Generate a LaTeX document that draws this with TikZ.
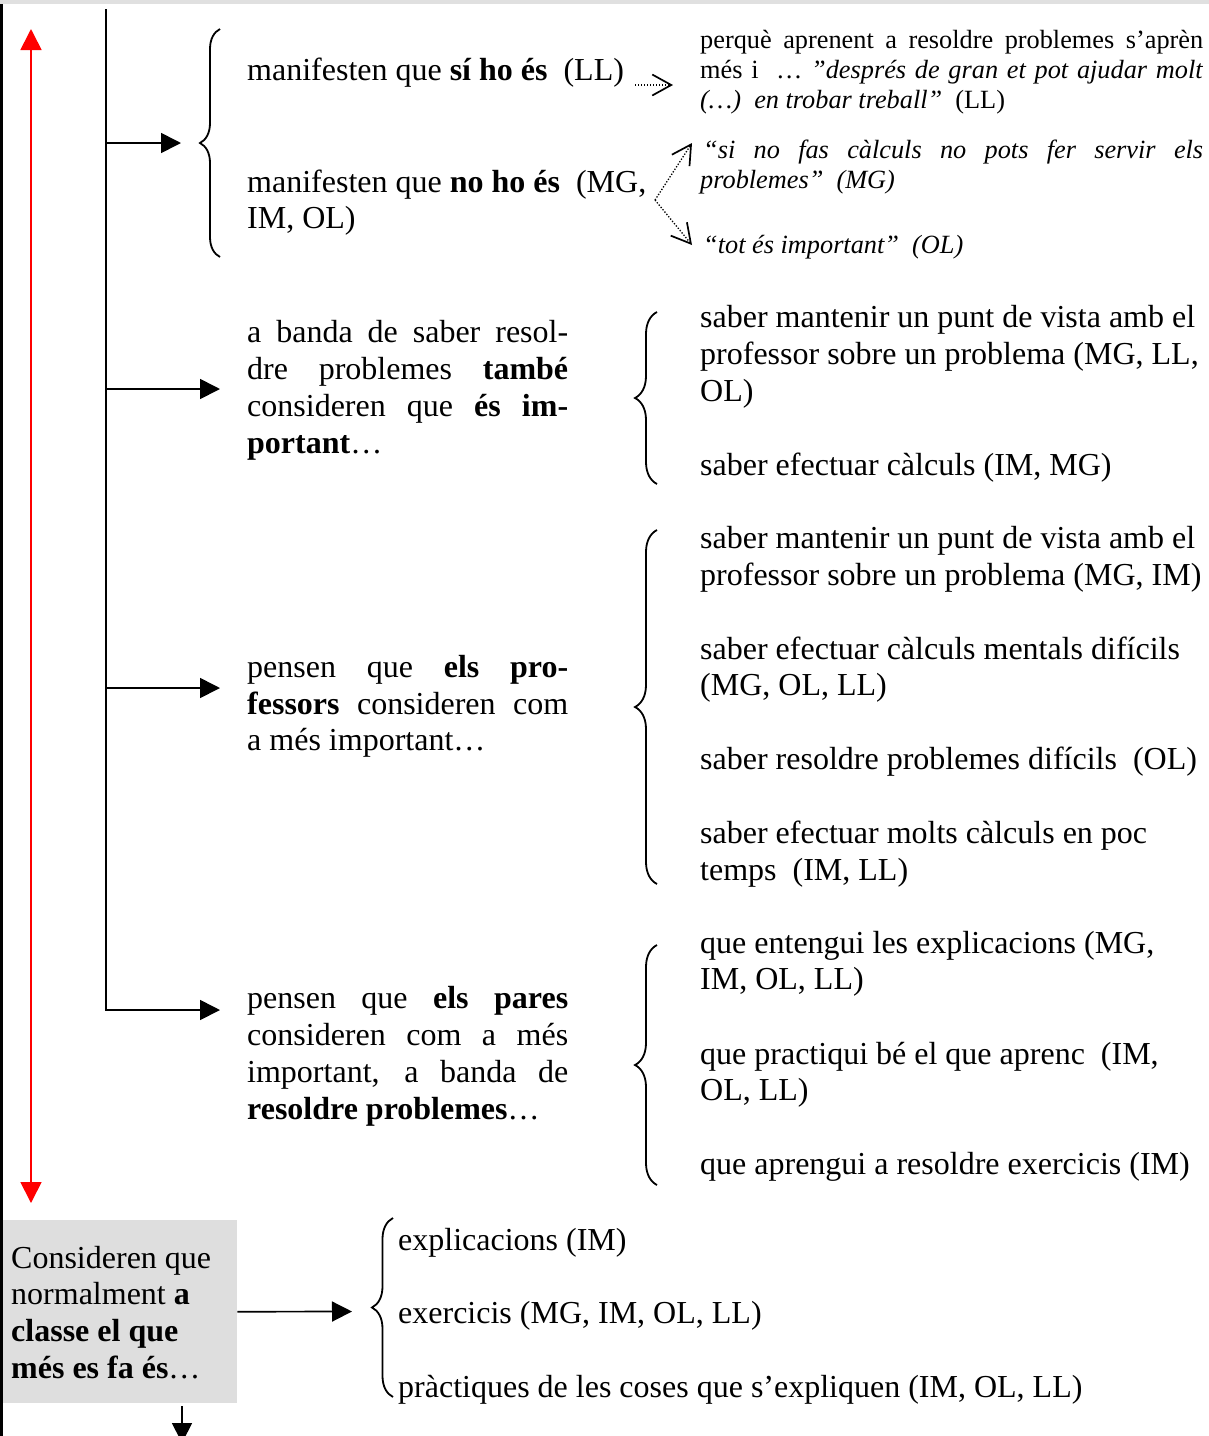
\documentclass[tikz,border=0pt]{standalone}
\usepackage{fontspec}
\setmainfont{Liberation Serif}
\usetikzlibrary{arrows.meta,decorations.pathreplacing}

\definecolor{boxgrey}{HTML}{DEDEDE}
\definecolor{stripgrey}{HTML}{E0E0E0}

% a line stretched to a given width (justified)
\newcommand\justline[2]{\makebox[#1][s]{#2}}

\tikzset{
  big/.style={font=\fontsize{32}{37}\selectfont, inner sep=0pt, anchor=base west},
  small/.style={font=\fontsize{26.3}{30}\selectfont, inner sep=0pt, anchor=base west},
  link/.style={line width=1.7pt, -{Triangle[length=20pt,width=20pt]}},
  spine/.style={line width=1.7pt},
  bracestyle/.style={line width=1.8pt, decorate, decoration={brace, amplitude=22pt}},
  hint/.style={line width=1.3pt, dash pattern=on 1.3pt off 1.7pt,
    -{Straight Barb[length=19pt,width=21pt,line width=1.7pt]}},
  timeline/.style={red, line width=1.7pt,
    {Triangle[length=21pt,width=21pt]}-{Triangle[length=21pt,width=21pt]}}
}

\begin{document}
\begin{tikzpicture}[x=1pt,y=-1pt]
\useasboundingbox (0,0) rectangle (1209,1436);
\clip (0,0) rectangle (1209,1436);

% frame edges
\fill[stripgrey] (0,0) rectangle (1209,4.3);
\fill[black] (0,4.3) rectangle (2.7,1436);

% red time line
\coordinate (redtop) at (31,29);
\coordinate (redbot) at (31,1203);
\draw[timeline] (redbot) -- (redtop);

% black spine and its branches
\coordinate (spinetop) at (106,9);
\coordinate (spinebot) at (106,1011);
\draw[spine] (spinetop) -- (spinebot);
\coordinate (b1) at (106,143);  \coordinate (t1) at (181,143);
\coordinate (b2) at (106,389);  \coordinate (t2) at (220,389);
\coordinate (b3) at (106,688);  \coordinate (t3) at (220,688);
\coordinate (b4) at (106,1010); \coordinate (t4) at (220,1010);
\draw[link] (b1) -- (t1);
\draw[link] (b2) -- (t2);
\draw[link] (b3) -- (t3);
\draw[link] (b4) -- (t4);

% ---- block 1
\draw[bracestyle, decoration={amplitude=20pt}] (220,257) -- (220,29);
\node[big] (s1a) at (247,80) {manifesten que \textbf{sí ho és}\ \ (LL)};
\node[big] (s1b) at (247,192) {manifesten que \textbf{no ho és}\ \ (MG,};
\node[big] (s1c) at (247,228) {IM, OL)};

\node[small] (q1a) at (700,48) {\justline{503pt}{perquè aprenent a resoldre problemes s’aprèn}};
\node[small] (q1b) at (700,78) {\justline{503pt}{més i\ \ … \textit{”després de gran et pot ajudar molt}}};
\node[small] (q1c) at (700,108) {\textit{(…)\ \ en trobar treball”}\ \ (LL)};
\node[small] (q2a) at (703,158) {\itshape\justline{500pt}{“si no fas càlculs no pots fer servir els}};
\node[small] (q2b) at (700,188) {\itshape problemes”\ \ (MG)};
\node[small] (q3) at (703,253) {\itshape “tot és important”\ \ (OL)};

\coordinate (h0) at (635,85);  \coordinate (h1) at (673,85);
\coordinate (h2) at (655,200); \coordinate (h3) at (692,143);
\coordinate (h4) at (692,245);
\draw[hint] (h0) -- (h1);
\draw[hint] (h2) -- (h3);
\draw[hint] (h2) -- (h4);

% ---- block 2
\node[big] (s2a) at (247,342) {\justline{321pt}{a banda de saber resol-}};
\node[big] (s2b) at (247,379) {\justline{321pt}{dre problemes \textbf{també}}};
\node[big] (s2c) at (247,416) {\justline{321pt}{consideren que \textbf{és im-}}};
\node[big] (s2d) at (247,453) {\textbf{portant}…};
\draw[bracestyle] (657,484) -- (657,312);
\node[big] (r2a) at (700,327) {saber mantenir un punt de vista amb el};
\node[big] (r2b) at (700,364) {professor sobre un problema (MG, LL,};
\node[big] (r2c) at (700,401) {OL)};
\node[big] (r2d) at (700,475) {saber efectuar càlculs (IM, MG)};

% ---- block 3
\node[big] (s3a) at (247,677) {\justline{321pt}{pensen que \textbf{els pro-}}};
\node[big] (s3b) at (247,714) {\justline{321pt}{\textbf{fessors} consideren com}};
\node[big] (s3c) at (247,750) {a més important…};
\draw[bracestyle] (657,884) -- (657,530);
\node[big] (r3a) at (700,548) {saber mantenir un punt de vista amb el};
\node[big] (r3b) at (700,585) {professor sobre un problema (MG, IM)};
\node[big] (r3c) at (700,659) {saber efectuar càlculs mentals difícils};
\node[big] (r3d) at (700,695) {(MG, OL, LL)};
\node[big] (r3e) at (700,769) {saber resoldre problemes difícils\ \ (OL)};
\node[big] (r3f) at (700,843) {saber efectuar molts càlculs en poc};
\node[big] (r3g) at (700,880) {temps\ \ (IM, LL)};

% ---- block 4
\node[big] (s4a) at (247,1008) {\justline{321pt}{pensen que \textbf{els pares}}};
\node[big] (s4b) at (247,1045) {\justline{321pt}{consideren com a més}};
\node[big] (s4c) at (247,1082) {\justline{321pt}{important, a banda de}};
\node[big] (s4d) at (247,1119) {\textbf{resoldre problemes}…};
\draw[bracestyle] (657,1185) -- (657,945);
\node[big] (r4a) at (700,953) {que entengui les explicacions (MG,};
\node[big] (r4b) at (700,989) {IM, OL, LL)};
\node[big] (r4c) at (700,1064) {que practiqui bé el que aprenc\ \ (IM,};
\node[big] (r4d) at (700,1100) {OL, LL)};
\node[big] (r4e) at (700,1174) {que aprengui a resoldre exercicis (IM)};

% ---- grey box at the bottom
\node[fill=boxgrey, minimum width=234pt, minimum height=183pt, inner sep=0pt,
      anchor=north west] (box) at (3,1220) {};
\node[big] (k1) at (11,1268) {Consideren que};
\node[big] (k2) at (11,1304.5) {normalment \textbf{a}};
\node[big] (k3) at (11,1341) {\textbf{classe el que}};
\node[big] (k4) at (11,1378) {\textbf{més es fa és}…};
\coordinate (t5) at (352,1311.5);
\draw[link] (box.east) -- (t5);
\coordinate (d0) at (182,1406);
\coordinate (d1) at (182,1443);
\draw[link] (d0) -- (d1);

\draw[bracestyle, decoration={amplitude=21pt}] (393,1397) -- (393,1218);
\node[big] (e1) at (398,1250) {explicacions (IM)};
\node[big] (e2) at (398,1323) {exercicis (MG, IM, OL, LL)};
\node[big] (e3) at (398,1397) {pràctiques de les coses que s’expliquen (IM, OL, LL)};
\end{tikzpicture}
\end{document}
